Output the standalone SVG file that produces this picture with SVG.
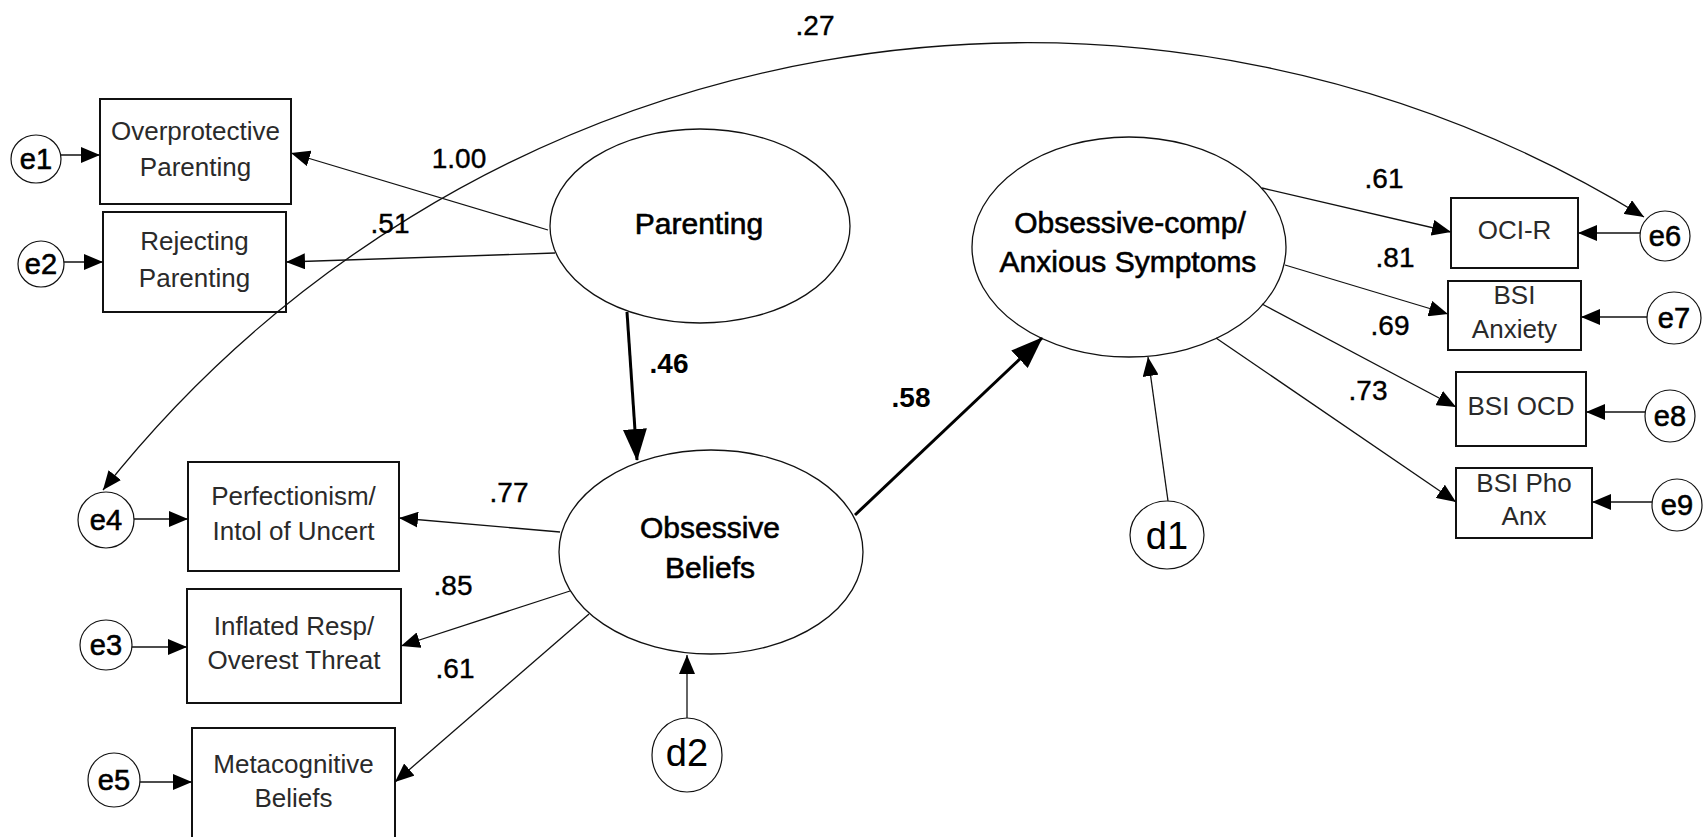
<svg xmlns="http://www.w3.org/2000/svg" width="1705" height="837" viewBox="0 0 1705 837">
<style>
.bx{fill:#fff;stroke:#111;stroke-width:2}
.el{fill:#fff;stroke:#111;stroke-width:1.3}
.ci{fill:#fff;stroke:#111;stroke-width:1.2}
.bt{font-family:"Liberation Sans",Arial,sans-serif;font-size:26px;fill:#2a2a2a;text-anchor:middle}
.lt{font-family:"Liberation Sans",Arial,sans-serif;font-size:30px;fill:#000;stroke:#000;stroke-width:0.6;text-anchor:middle}
.et{font-family:"Liberation Sans",Arial,sans-serif;font-size:29px;fill:#000;stroke:#000;stroke-width:0.6;text-anchor:middle}
.dt{font-family:"Liberation Sans",Arial,sans-serif;font-size:38px;fill:#000;text-anchor:middle}
.nl{font-family:"Liberation Sans",Arial,sans-serif;font-size:28px;fill:#000;stroke:#000;stroke-width:0.4;text-anchor:middle}
.nb{font-family:"Liberation Sans",Arial,sans-serif;font-size:28px;font-weight:bold;fill:#000;text-anchor:middle}
.c{fill:none;stroke:#111;stroke-width:1.3;marker-end:url(#ah)}
.cb{fill:none;stroke:#000;stroke-width:3;marker-end:url(#ahb)}
</style>
<defs>
<marker id="ah" markerUnits="userSpaceOnUse" markerWidth="20" markerHeight="16" refX="19" refY="8" orient="auto"><path d="M0,0 L19,8 L0,16 z" fill="#000"/></marker>
<marker id="ahs" markerUnits="userSpaceOnUse" markerWidth="20" markerHeight="16" refX="19" refY="8" orient="auto-start-reverse"><path d="M0,0 L19,8 L0,16 z" fill="#000"/></marker>
<marker id="ahb" markerUnits="userSpaceOnUse" markerWidth="32" markerHeight="24" refX="31" refY="12" orient="auto"><path d="M0,0 L32,12 L0,24 z" fill="#000"/></marker>
</defs>
<rect width="1705" height="837" fill="#fff"/>

<g id="n-e1"><ellipse class="ci" cx="36" cy="159" rx="25" ry="24"/><text class="et" x="36" y="169">e1</text></g>
<g id="n-e2"><ellipse class="ci" cx="41" cy="264" rx="23" ry="23"/><text class="et" x="41" y="274">e2</text></g>
<g id="n-e4"><ellipse class="ci" cx="106" cy="520" rx="28" ry="28"/><text class="et" x="106" y="530">e4</text></g>
<g id="n-e3"><ellipse class="ci" cx="106" cy="645" rx="26" ry="25"/><text class="et" x="106" y="655">e3</text></g>
<g id="n-e5"><ellipse class="ci" cx="114" cy="780" rx="26" ry="27"/><text class="et" x="114" y="790">e5</text></g>
<g id="n-e6"><ellipse class="ci" cx="1665" cy="236" rx="25" ry="25"/><text class="et" x="1665" y="246">e6</text></g>
<g id="n-e7"><ellipse class="ci" cx="1674" cy="318" rx="27" ry="26"/><text class="et" x="1674" y="328">e7</text></g>
<g id="n-e8"><ellipse class="ci" cx="1670" cy="416" rx="25" ry="26"/><text class="et" x="1670" y="426">e8</text></g>
<g id="n-e9"><ellipse class="ci" cx="1677" cy="505" rx="25" ry="26"/><text class="et" x="1677" y="515">e9</text></g>
<g id="n-d1"><ellipse class="ci" cx="1167" cy="535" rx="37" ry="34"/><text class="dt" x="1167" y="549">d1</text></g>
<g id="n-d2"><ellipse class="ci" cx="687" cy="755" rx="35" ry="37"/><text class="dt" x="687" y="766">d2</text></g>

<g id="n-overprotective"><rect class="bx" x="100" y="99" width="191" height="105"/><text class="bt" x="195.5" y="140">Overprotective</text><text class="bt" x="195.5" y="176">Parenting</text></g>
<g id="n-rejecting"><rect class="bx" x="103" y="212" width="183" height="100"/><text class="bt" x="194.5" y="250">Rejecting</text><text class="bt" x="194.5" y="287">Parenting</text></g>
<g id="n-perfectionism"><rect class="bx" x="188" y="462" width="211" height="109"/><text class="bt" x="293.5" y="505">Perfectionism/</text><text class="bt" x="293.5" y="540">Intol of Uncert</text></g>
<g id="n-inflated"><rect class="bx" x="187" y="589" width="214" height="114"/><text class="bt" x="294" y="635">Inflated Resp/</text><text class="bt" x="294" y="669">Overest Threat</text></g>
<g id="n-metacognitive"><rect class="bx" x="192" y="728" width="203" height="120"/><text class="bt" x="293.5" y="773">Metacognitive</text><text class="bt" x="293.5" y="807">Beliefs</text></g>
<g id="n-ocir"><rect class="bx" x="1451" y="198" width="127" height="70"/><text class="bt" x="1514.5" y="239">OCI-R</text></g>
<g id="n-bsianx"><rect class="bx" x="1448" y="281" width="133" height="69"/><text class="bt" x="1514.5" y="304">BSI</text><text class="bt" x="1514.5" y="338">Anxiety</text></g>
<g id="n-bsiocd"><rect class="bx" x="1456" y="372" width="130" height="74"/><text class="bt" x="1521" y="415">BSI OCD</text></g>
<g id="n-bsipho"><rect class="bx" x="1456" y="468" width="136" height="70"/><text class="bt" x="1524" y="492">BSI Pho</text><text class="bt" x="1524" y="525">Anx</text></g>

<g id="n-parenting"><ellipse class="el" cx="700" cy="226" rx="150" ry="97"/><text class="lt" x="699" y="234">Parenting</text></g>
<g id="n-obsbeliefs"><ellipse class="el" cx="711" cy="552" rx="152" ry="102"/><text class="lt" x="710" y="538">Obsessive</text><text class="lt" x="710" y="578">Beliefs</text></g>
<g id="n-ocas"><ellipse class="el" cx="1129" cy="247" rx="157" ry="110"/><text class="lt" x="1130" y="233">Obsessive-comp/</text><text class="lt" x="1128" y="272">Anxious Symptoms</text></g>

<g id="connectors">
<line class="c" x1="548" y1="230" x2="291" y2="153"/>
<line class="c" x1="555" y1="253" x2="286" y2="262"/>
<line class="c" x1="61" y1="155" x2="100" y2="155"/>
<line class="c" x1="64" y1="262" x2="103" y2="262"/>
<line class="c" x1="560" y1="532" x2="399" y2="518"/>
<line class="c" x1="570" y1="591" x2="401" y2="646"/>
<line class="c" x1="589" y1="614" x2="395" y2="782"/>
<line class="c" x1="134" y1="519" x2="188" y2="519"/>
<line class="c" x1="132" y1="647" x2="187" y2="647"/>
<line class="c" x1="140" y1="782" x2="192" y2="782"/>
<line class="c" x1="687" y1="718" x2="687" y2="655"/>
<line class="c" x1="1168" y1="501" x2="1148" y2="357"/>
<line class="c" x1="1262" y1="188" x2="1451" y2="232"/>
<line class="c" x1="1285" y1="265" x2="1448" y2="314"/>
<line class="c" x1="1262" y1="304" x2="1456" y2="407"/>
<line class="c" x1="1216" y1="338" x2="1456" y2="502"/>
<line class="c" x1="1640" y1="233" x2="1578" y2="233"/>
<line class="c" x1="1647" y1="317" x2="1581" y2="317"/>
<line class="c" x1="1645" y1="412" x2="1586" y2="412"/>
<line class="c" x1="1652" y1="502" x2="1592" y2="502"/>
<line class="cb" x1="627" y1="312" x2="637" y2="460"/>
<line class="cb" x1="855" y1="515" x2="1042" y2="338"/>
<path d="M103,490 A1179,1179 0 0 1 1644,217" fill="none" stroke="#111" stroke-width="1.3" marker-start="url(#ahs)" marker-end="url(#ah)"/>
</g>

<g id="labels">
<text class="nl" x="815" y="35">.27</text>
<text class="nl" x="459" y="168">1.00</text>
<text class="nl" x="390" y="233">.51</text>
<text class="nb" x="669" y="373">.46</text>
<text class="nb" x="911" y="407">.58</text>
<text class="nl" x="509" y="502">.77</text>
<text class="nl" x="453" y="595">.85</text>
<text class="nl" x="455" y="678">.61</text>
<text class="nl" x="1384" y="188">.61</text>
<text class="nl" x="1395" y="267">.81</text>
<text class="nl" x="1390" y="335">.69</text>
<text class="nl" x="1368" y="400">.73</text>
</g>
</svg>
